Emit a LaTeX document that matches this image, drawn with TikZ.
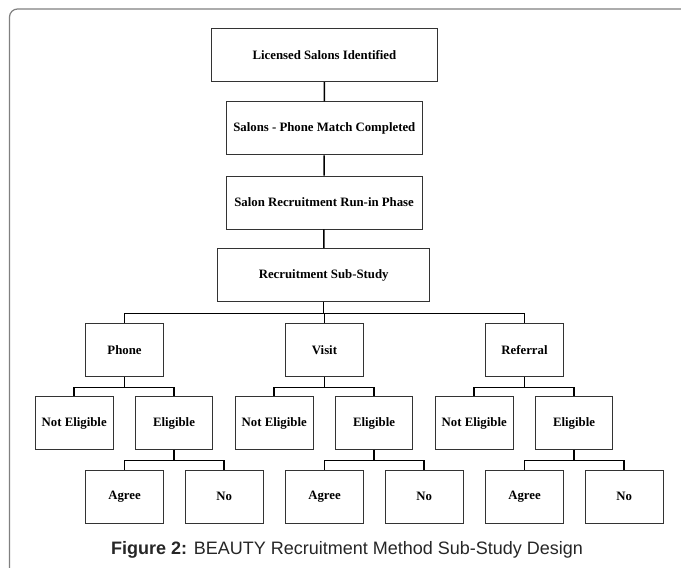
\documentclass[tikz,border=0pt]{standalone}
\usepackage{fontspec}
\setmainfont{Liberation Serif}
\newfontfamily\capfont{Liberation Sans}
\usetikzlibrary{positioning}

\begin{document}
\begin{tikzpicture}[x=1pt, y=-1pt,
    stage/.style={draw=black!80, line width=0.9pt, minimum height=53pt, inner sep=2pt, font=\fontsize{12.8}{15}\selectfont\bfseries},
    link/.style={line width=1.5pt}]
  \useasboundingbox (0,0) rectangle (681,568);
  \clip (0,0) rectangle (681,568);
  % outer frame, open to the right and below
  \draw[black!50, line width=1.2pt, rounded corners=8pt] (9.5,600) -- (9.5,9) -- (720,9);

  % main chain
  \node[stage, minimum width=226.7pt] (licensed) at (324.4,55.2) {Licensed Salons Identified};
  \node[stage, minimum width=196pt] (match) at (324.3,128.3) {Salons - Phone Match Completed};
  \node[stage, minimum width=196pt] (runin) at (324.1,202.5) {Salon Recruitment Run-in Phase};
  \node[stage, minimum width=212pt] (substudy) at (323.7,275) {Recruitment Sub-Study};
  \draw[link] (licensed) -- (match);
  \draw[link] (match) -- (runin);
  \draw[link] (runin) -- (substudy);

  % three methods
  \foreach \m/\x/\t in {phone/124.5/Phone, visit/324.5/Visit, referral/524.5/Referral} {
    \node[stage, minimum width=78pt] (\m) at (\x,349.8) {\t};
    \node[stage, minimum width=77.5pt] (ne\m) at ({\x-50.3},423) {Not Eligible};
    \node[stage, minimum width=77.5pt] (el\m) at ({\x+49.5},423) {Eligible};
    \node[stage, minimum width=78.4pt] (ag\m) at (\x,496.8) {Agree};
    \node[stage, minimum width=78.4pt] (no\m) at ({\x+99.7},496.8) {No};
    \draw[link] (substudy.south) -- ++(0,11.4) -| (\m.north);
    \draw[link] (\m.south) -- ++(0,10.7) -| (ne\m.north);
    \draw[link] (\m.south) -- ++(0,10.7) -| (el\m.north);
    \draw[link] (el\m.south) -- ++(0,10.7) -| (ag\m.north);
    \draw[link] (el\m.south) -- ++(0,10.7) -| (no\m.north);
  }

  \node[anchor=base, text=black!85, font=\capfont\fontsize{18}{20}\selectfont] (caption) at (347,554) {\textbf{Figure 2:} BEAUTY Recruitment Method Sub-Study Design};
\end{tikzpicture}
\end{document}
